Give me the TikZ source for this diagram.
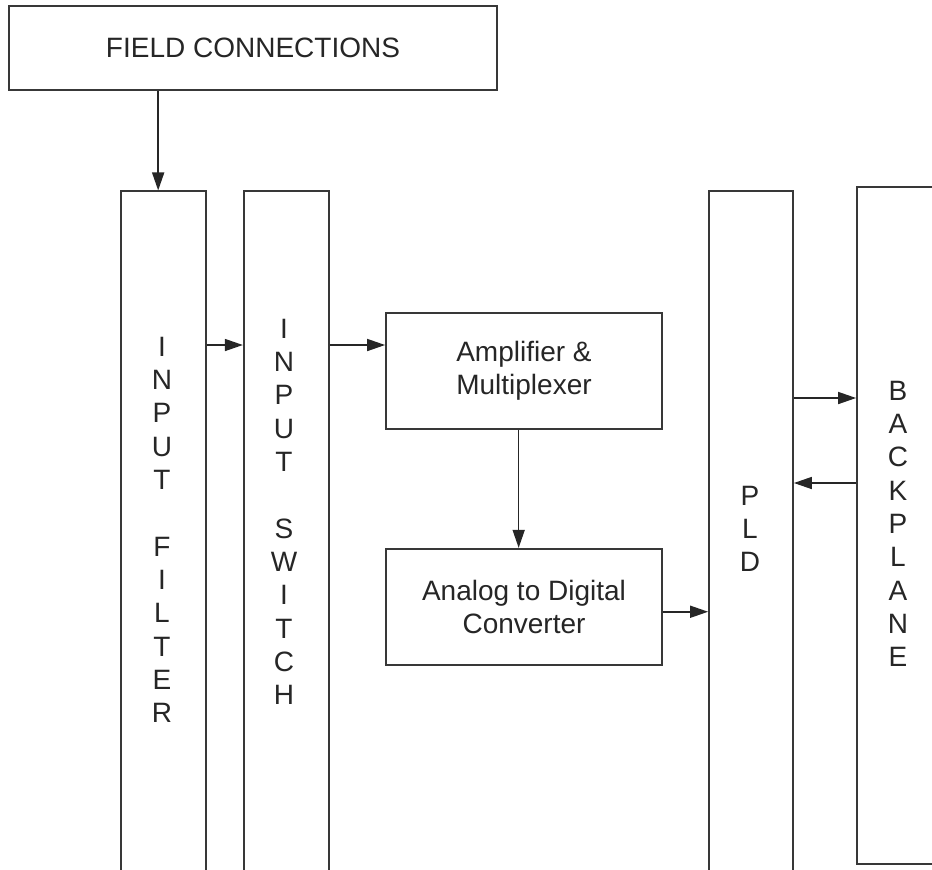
\documentclass[tikz,border=0pt]{standalone}
\usepackage{fontspec}
\setmainfont{Liberation Sans}
\usetikzlibrary{arrows.meta, positioning}
\tikzset{
    block/.style={rectangle, draw=black!78, line width=1.3pt, fill=white, align=center, inner sep=0pt},
    column/.style={block, minimum width=63.75pt, minimum height=547pt},
    stage/.style={block, minimum width=207pt, minimum height=87pt},
    letters/.style={align=center, inner sep=0pt, text=black!85},
    arrow/.style={line width=1.2pt, draw=black!85, -{Triangle[length=13.5pt, width=9pt]}}
}

\begin{document}
\begin{tikzpicture}[x=0.75pt, y=-0.75pt, font=\fontsize{21}{25}\selectfont]
        \clip (0,0) rectangle (932,869);

        \node (Field) [block, minimum width=366pt, minimum height=63pt, text=black!85] at (253, 48) {FIELD CONNECTIONS};

        % Input stages (run off the bottom edge)
        \node (Filter) [column] at (163.5, 556) {};
        \node (Switch) [column, right=27pt of Filter] {};
        \node (Filter_label) [letters] at (162, 530) {I\\N\\P\\U\\T\\[25pt]F\\I\\L\\T\\E\\R};
        \node (Switch_label) [letters] at (284, 512) {I\\N\\P\\U\\T\\[25pt]S\\W\\I\\T\\C\\H};

        % Conversion
        \node (Amp) [stage, text=black!85] at (524, 371) {Amplifier \&\\Multiplexer};
        \node (ADC) [stage, text=black!85, below=88.5pt of Amp] {Analog to Digital\\Converter};

        % Logic and backplane
        \node (PLD) [column, minimum width=63pt] at (751, 556) {};
        \node (PLD_label) [letters] at (750, 529) {P\\L\\D};
        \node (Backplane) [block, minimum width=62.25pt, minimum height=507.75pt] at (898.5, 525.5) {};
        \node (Backplane_label) [letters] at (898, 524) {B\\A\\C\\K\\P\\L\\A\\N\\E};

        \coordinate (sig) at (0, 345);
        \coordinate (bus_out) at (0, 398);
        \coordinate (bus_in) at (0, 483);

        \draw[arrow] ([xshift=-4pt]Filter.north |- Field.south) -- ([xshift=-4pt]Filter.north);
        \draw[arrow] (Filter.east |- sig) -- (Switch.west |- sig);
        \draw[arrow] (Switch.east |- sig) -- (Amp.west |- sig);
        \draw[arrow] ([xshift=-4pt]Amp.south) -- ([xshift=-4pt]ADC.north);
        \draw[arrow] ([yshift=-3.75pt]ADC.east) -- ([yshift=-3.75pt]ADC.east -| PLD.west);

        % PLD <-> backplane
        \draw[arrow] (PLD.east |- bus_out) -- (Backplane.west |- bus_out);
        \draw[arrow] (Backplane.west |- bus_in) -- (PLD.east |- bus_in);
    \end{tikzpicture}
\end{document}
